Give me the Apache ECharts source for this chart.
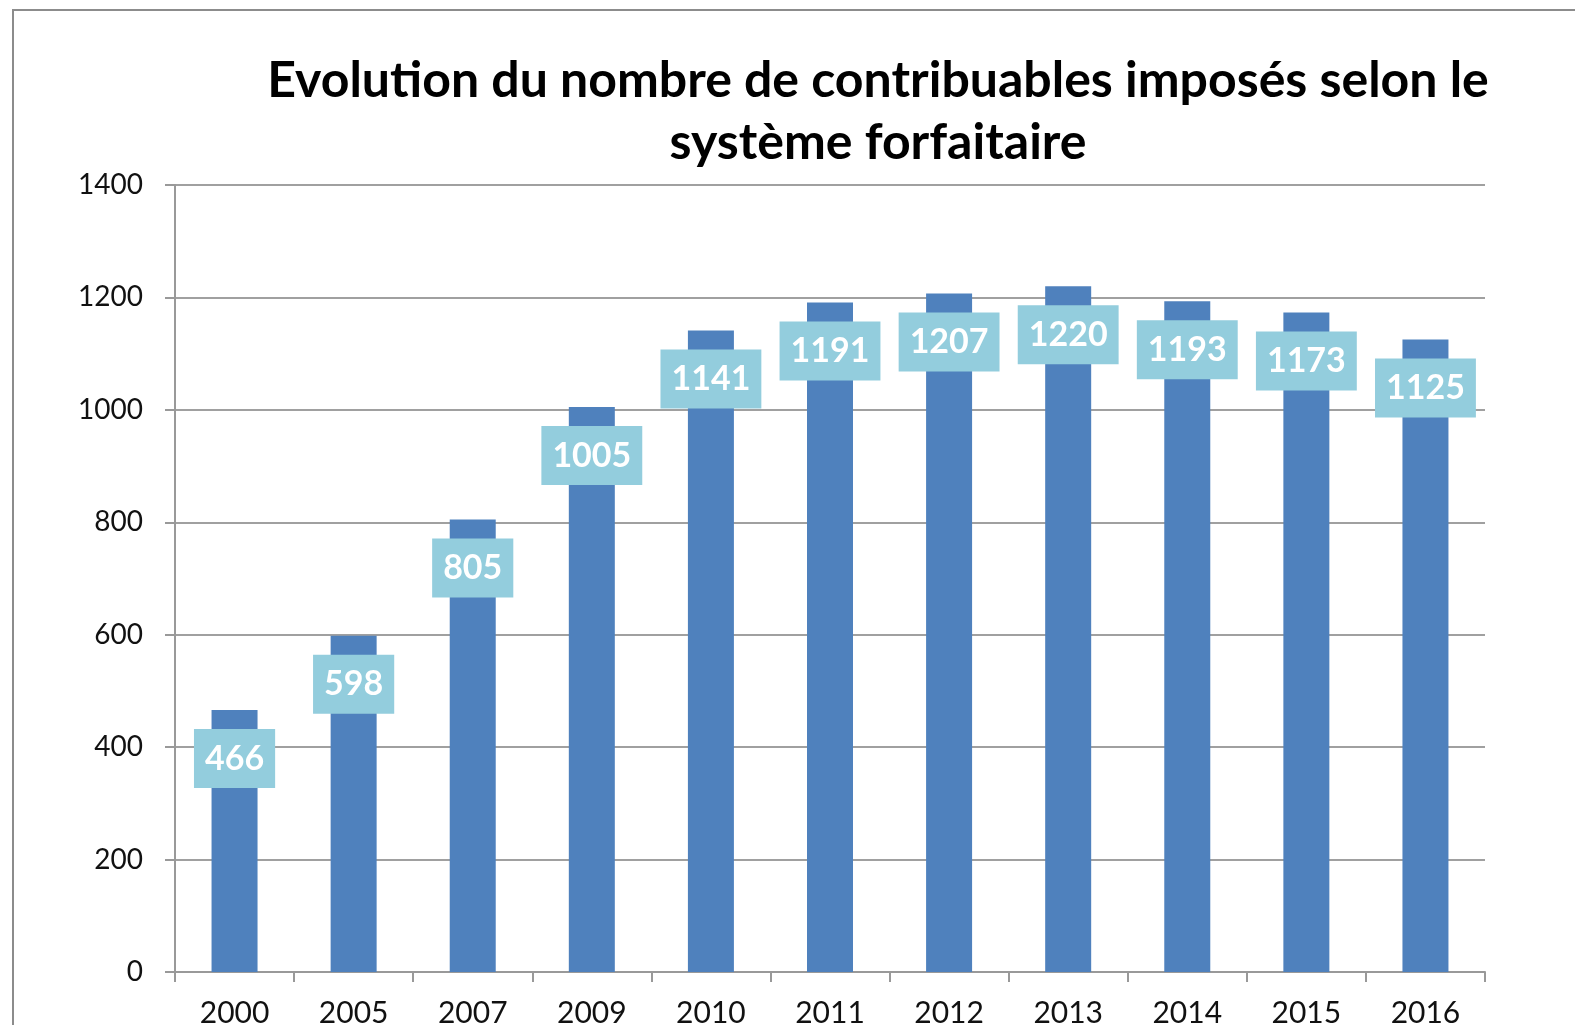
<!DOCTYPE html>
<html>
<head>
<meta charset="utf-8">
<script src="https://cdn.jsdelivr.net/npm/echarts@6/dist/echarts.min.js"></script>
<style>
  html, body { margin: 0; padding: 0; background: #fff; }
  #chart { width: 1575px; height: 1025px; }
</style>
</head>
<body>
<div id="chart"></div>
<script>
const years = ['2000', '2005', '2007', '2009', '2010', '2011', '2012', '2013', '2014', '2015', '2016'];
const contribuables = [466, 598, 805, 1005, 1141, 1191, 1207, 1220, 1193, 1173, 1125];
const titleText = 'Evolution du nombre de contribuables imposés selon le\nsystème forfaitaire';

const chart = echarts.init(document.getElementById('chart'));
const option = {
  backgroundColor: '#fff',
  animation: false,
  textStyle: { fontFamily: 'Lato' },
  graphic: [{
    type: 'rect',
    shape: { x: 13, y: 10, width: 1700, height: 1200 },
    style: { fill: null, stroke: '#8c8c8c', lineWidth: 2 },
    silent: true
  }],
  title: {
    text: titleText,
    left: 873,
    top: 45,
    textAlign: 'center',
    textStyle: {
      fontFamily: 'Lato',
      fontWeight: 'bold',
      fontSize: 50,
      lineHeight: 62,
      color: '#000'
    }
  },
  grid: {
    left: 175,
    right: 90,
    top: 185,
    bottom: 53,
    outerBoundsMode: 'none'
  },
  xAxis: {
    type: 'category',
    data: years,
    axisLine: { lineStyle: { color: '#999', width: 2 } },
    axisTick: { show: true, length: 10, lineStyle: { color: '#999', width: 2 } },
    axisLabel: { color: '#111', fontSize: 30, margin: 26, fontFamily: 'Lato' }
  },
  yAxis: {
    type: 'value',
    min: 0,
    max: 1400,
    interval: 200,
    axisLine: { show: true, lineStyle: { color: '#999', width: 2 } },
    axisTick: { show: true, length: 10, lineStyle: { color: '#999', width: 2 } },
    axisLabel: {
      color: '#111',
      fontSize: 28,
      margin: 32,
      fontFamily: 'Lato',
      formatter: (v) => String(v)
    },
    splitLine: { lineStyle: { color: '#a0a0a0', width: 2 } }
  },
  series: [{
    type: 'bar',
    data: contribuables,
    barWidth: 46,
    itemStyle: { color: '#4F81BD' },
    label: {
      show: true,
      position: 'insideTop',
      distance: 19,
      color: '#fff',
      fontFamily: 'Lato',
      fontWeight: 'bold',
      fontSize: 34,
      lineHeight: 35,
      backgroundColor: '#93CDDD',
      padding: [12, 11]
    }
  }]
};
chart.setOption(option);
</script>
</body>
</html>
